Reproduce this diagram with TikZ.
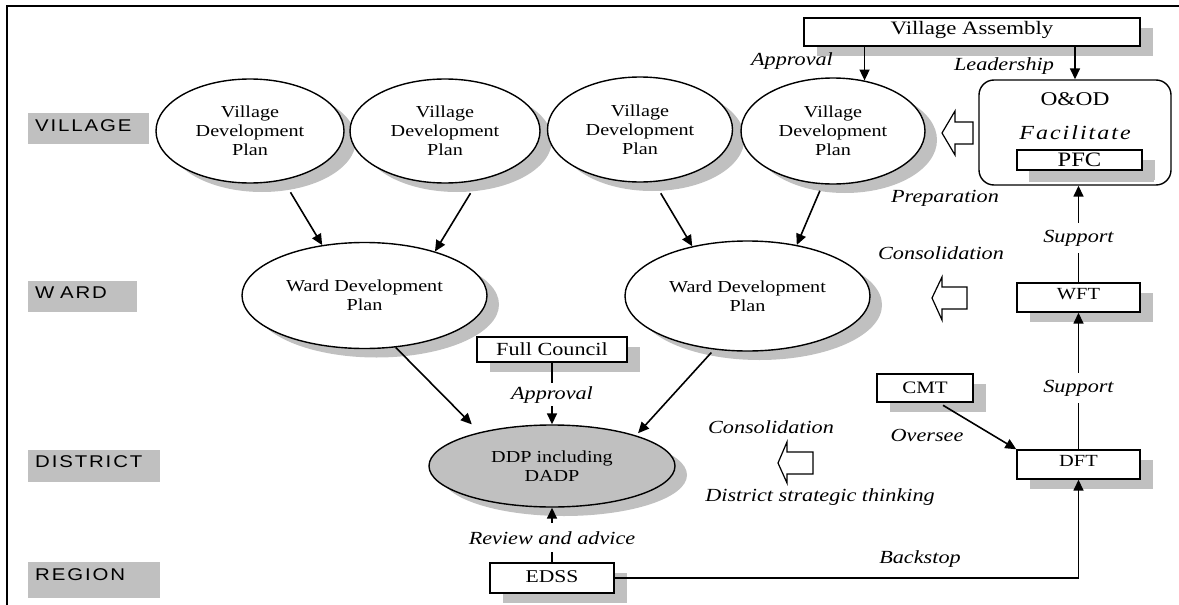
\documentclass[tikz,border=0pt]{standalone}
\usepackage{fontspec}
\setmainfont{Liberation Serif}[FakeStretch=1.2]
\newfontfamily\mylabfont{Liberation Sans}[FakeStretch=1.2,LetterSpace=11]
\newfontfamily\myfacfont{Liberation Serif}[FakeStretch=1.2,LetterSpace=10]
\usetikzlibrary{arrows.meta,shapes.geometric,shadows}
\definecolor{sgray}{HTML}{C0C0C0}
\newcommand\myEfont{\fontsize{16.8pt}{19pt}\selectfont}
\newcommand\myLfont{\fontsize{18.5pt}{22pt}\selectfont}
\tikzset{
  eshadow/.style={drop shadow={shadow xshift=12pt, shadow yshift=-9pt, fill=sgray, opacity=1, draw=none}},
  bshadow/.style={drop shadow={shadow xshift=13pt, shadow yshift=-10pt, fill=sgray, opacity=1, draw=none}},
  ell/.style={ellipse, draw, line width=1.4pt, fill=white, inner sep=0pt, align=center, font=\myEfont, eshadow},
  box/.style={rectangle, draw, line width=1.4pt, fill=white, inner sep=0pt, bshadow},
  arr/.style={line width=1.6pt, -{Triangle[length=11pt,width=10pt]}},
  lbl/.style={font=\myLfont\itshape, inner sep=1pt},
  onl/.style={lbl, fill=white, inner xsep=2pt},
  rowlab/.style={fill=sgray, anchor=north west, inner xsep=7pt, inner ysep=0pt, align=left, font=\mylabfont\fontsize{17pt}{19pt}\selectfont, text height=12pt},
  harrow/.style={draw, line width=1.2pt, fill=white, line join=miter}
}
\begin{document}
\begin{tikzpicture}[x=1pt,y=-1pt]
\useasboundingbox (0,0) rectangle (1179,605);
% frame
\draw[line width=2.8pt] (7,605) -- (7,6) -- (1179,6);
% row labels
\node[rowlab, text width=107pt, minimum height=31pt, text depth=6pt] (rv) at (28,113) {VILLAGE};
\node[rowlab, text width=95pt, minimum height=31pt, text depth=8pt] (rw) at (28,281) {W ARD};
\node[rowlab, text width=118pt, minimum height=32pt, text depth=9pt] (rd) at (28,450) {DISTRICT};
\node[rowlab, text width=118pt, minimum height=36pt, text depth=11pt] (rr) at (28,562) {REGION};
% village plans
\node[ell, minimum width=188pt, minimum height=104pt] (v1) at (250,131) {Village\\Development\\Plan};
\node[ell, minimum width=190pt, minimum height=104pt] (v2) at (445,131) {Village\\Development\\Plan};
\node[ell, minimum width=185pt, minimum height=105pt] (v3) at (640,129.5) {Village\\Development\\Plan};
\node[ell, minimum width=184pt, minimum height=106pt] (v4) at (833,131) {Village\\Development\\Plan};
% ward plans
\node[ell, minimum width=245pt, minimum height=106pt] (w1) at (364.5,295.5) {Ward Development\\Plan};
\node[ell, minimum width=245pt, minimum height=110pt] (w2) at (747.5,296) {Ward Development\\Plan};
% district plan
\node[ell, fill=sgray, minimum width=246pt, minimum height=82pt] (ddp) at (552,466) {DDP including\\DADP};
% boxes
\node[box, minimum width=336pt, minimum height=28pt, font=\fontsize{19pt}{22pt}\selectfont, text height=12.5pt, text depth=8pt] (va) at (972,32) {Village Assembly};
\node[draw, rounded corners=15pt, line width=1.4pt, fill=white, minimum width=192pt, minimum height=105pt] (ood) at (1075,132.5) {};
\node[font=\fontsize{19.5pt}{22pt}\selectfont, inner sep=1pt] (oodt) at (1075,99) {O\&OD};
\node[inner sep=1pt, font=\fontsize{20pt}{24pt}\selectfont\myfacfont\itshape] (fac) at (1075,133) {Facilitate};
\node[box, drop shadow={shadow xshift=12pt, shadow yshift=-12pt, fill=sgray, opacity=1, draw=none}, minimum width=125pt, minimum height=20pt, font=\fontsize{20.5pt}{24pt}\selectfont, text height=13.5pt, text depth=0pt] (pfc) at (1079.5,160) {PFC};
\node[box, minimum width=123pt, minimum height=29pt, font=\fontsize{17pt}{20pt}\selectfont, text height=11.5pt, text depth=8pt] (wft) at (1078.5,297.5) {WFT};
\node[box, minimum width=123pt, minimum height=29pt, font=\fontsize{17pt}{20pt}\selectfont, text height=11.5pt, text depth=7pt] (dft) at (1078.5,464.5) {DFT};
\node[box, minimum width=96pt, minimum height=28pt, font=\fontsize{17.5pt}{20pt}\selectfont, text height=12pt, text depth=2pt] (cmt) at (925,388) {CMT};
\node[box, minimum width=150pt, minimum height=25pt, font=\fontsize{18.5pt}{22pt}\selectfont, text height=12.5pt, text depth=0pt] (fc) at (552,349.5) {Full Council};
\node[box, minimum width=124pt, minimum height=30pt, font=\fontsize{18pt}{21pt}\selectfont, text height=12pt, text depth=4pt] (edss) at (552,578) {EDSS};
% hollow arrows
\draw[harrow] (942,133) -- (955,111) -- (955,122) -- (973,122) -- (973,144) -- (955,144) -- (955,155) -- cycle;
\draw[harrow] (932,298) -- (942,277) -- (942,287) -- (967,287) -- (967,309) -- (942,309) -- (942,320) -- cycle;
\draw[harrow] (778,463) -- (787,442) -- (787,452) -- (813,452) -- (813,474) -- (787,474) -- (787,483) -- cycle;
% free labels
\node[lbl] (apv) at (792,61) {Approval};
\node[lbl] (lead) at (1004,66) {Leadership};
\node[lbl] (prep) at (945,198) {Preparation};
\node[lbl] (cons1) at (941,253) {Consolidation};
\node[lbl] (cons2) at (771,427) {Consolidation};
\node[lbl] (dst) at (820,497) {District strategic thinking};
\node[lbl] (ovs) at (927,435) {Oversee};
\node[lbl] (bks) at (920,559) {Backstop};
% connectors
\draw[arr, shorten <=14pt] (v1.-56) -- (w1.130);
\draw[arr, shorten <=15pt] (v2.-56) -- (w1.32);
\draw[arr, shorten <=13pt] (v3.-75) -- (w2.138);
\draw[arr, shorten <=7pt] (v4.-101) -- (w2.46);
\draw[arr, shorten >=11pt] (w1.-59) -- (ddp.155);
\draw[arr, shorten <=4pt, shorten >=3pt] (w2.-122) -- (ddp.20);
\draw[arr] (v4.58 |- va.south) -- (v4.58);
\draw[arr] (ood.north |- va.south) -- (ood.north);
\draw[arr] (wft.north) -- node[onl, pos=.46, inner ysep=7pt] (sup1) {Support} (wft.north |- ood.south);
\draw[arr] (dft.north) -- node[onl, pos=.446, inner ysep=7pt] (sup2) {Support} (wft.south);
\draw[arr, shorten <=5pt] (cmt.-47) -- (dft.north west);
\draw[arr] (edss.east) -- (edss.east -| dft.south) -- (dft.south);
\draw[arr] (fc.south) -- node[onl, pos=.52, inner ysep=3pt] (apv2) {Approval} (ddp.north);
\draw[arr] (edss.north) -- node[onl, pos=.446, inner ysep=8pt] (rev) {Review and advice} (ddp.south);
\end{tikzpicture}
\end{document}
